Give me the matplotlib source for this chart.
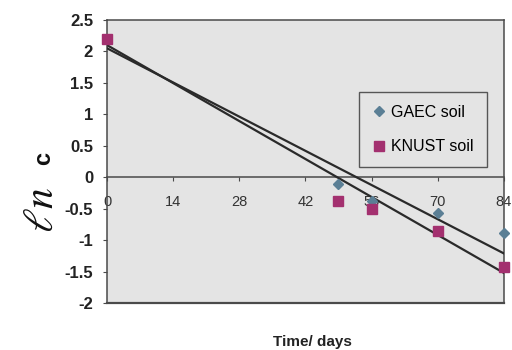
import matplotlib
matplotlib.use('AGG')
from matplotlib import pyplot as plt

# values
days = [0, 49, 56, 70, 84]
gaec = [2.2, -0.1, -0.38, -0.57, -0.89]
knust = [2.2, -0.37, -0.5, -0.86, -1.43]

# excel trend lines, end points
trend_days = [0, 84]
gaec_trend = [2.05, -1.21]
knust_trend = [2.1, -1.52]

xticks = [0, 14, 28, 42, 56, 70, 84]
yticks = [-2, -1.5, -1, -0.5, 0, 0.5, 1, 1.5, 2, 2.5]
ylabels = ['-2', '-1.5', '-1', '-0.5', '0', '0.5', '1', '1.5', '2', '2.5']

plt.rcParams['font.family'] = ['Liberation Sans', 'DejaVu Sans']
plt.rcParams['mathtext.fontset'] = 'stix'

frame = '#4a4a4a'
fig = plt.figure(figsize=(5.12, 3.5), dpi=100, facecolor='white')
ax = fig.add_axes([0.209, 0.134, 0.775, 0.809])
ax.set_facecolor('#e4e4e4')

ax.plot(trend_days, gaec_trend, color='#2a2a2a', lw=1.6, zorder=3)
ax.plot(trend_days, knust_trend, color='#2a2a2a', lw=1.6, zorder=3)
ax.plot(days, gaec, 'D', color='#5b7f95', ms=5, ls='none', label='GAEC soil',
        clip_on=False, zorder=4)
ax.plot(days, knust, 's', color='#a3306f', ms=6.5, ls='none', label='KNUST soil',
        clip_on=False, zorder=4)

ax.set_xlim(0, 84)
ax.set_ylim(-2, 2.5)

ax.spines['bottom'].set_position(('data', 0))
for sp in ax.spines.values():
    sp.set_color(frame)
    sp.set_linewidth(1.1)
ax.axhline(-2, color=frame, lw=1.6, clip_on=False)

ax.set_xticks(xticks)
ax.set_xticklabels([str(t) for t in xticks])
ax.set_yticks(yticks)
ax.set_yticklabels(ylabels)
ax.tick_params(axis='x', length=3, pad=10, labelsize=10.5, colors=frame,
               labelcolor='#333333')
ax.tick_params(axis='y', length=3, pad=7, labelsize=12, colors=frame,
               labelcolor='#222222')
for lab in ax.get_yticklabels():
    lab.set_fontweight('bold')

# y label: script "ln" then "c"
fig.text(42 / 512, 1 - 210 / 350, r'$\ell n$', fontsize=30, rotation=90,
         ha='center', va='center', color='#111111')
fig.text(44 / 512, 1 - 158 / 350, 'c', fontsize=17, fontweight='bold',
         rotation=90, ha='center', va='center', color='#111111')

fig.text(0.61, 0.023, 'Time/ days', fontsize=11, fontweight='bold',
         ha='center', va='center', color='#222222')

leg = ax.legend(loc='upper left', bbox_to_anchor=(0.636, 0.745), fontsize=11.5,
                frameon=True, fancybox=False, borderpad=0.8, labelspacing=1.2,
                handlelength=0.8, handletextpad=0.4, borderaxespad=0)
leg.get_frame().set_edgecolor('#333333')
leg.get_frame().set_facecolor('#e4e4e4')
leg.get_frame().set_linewidth(1.0)

plt.savefig('out.png', dpi=100, facecolor='white')
